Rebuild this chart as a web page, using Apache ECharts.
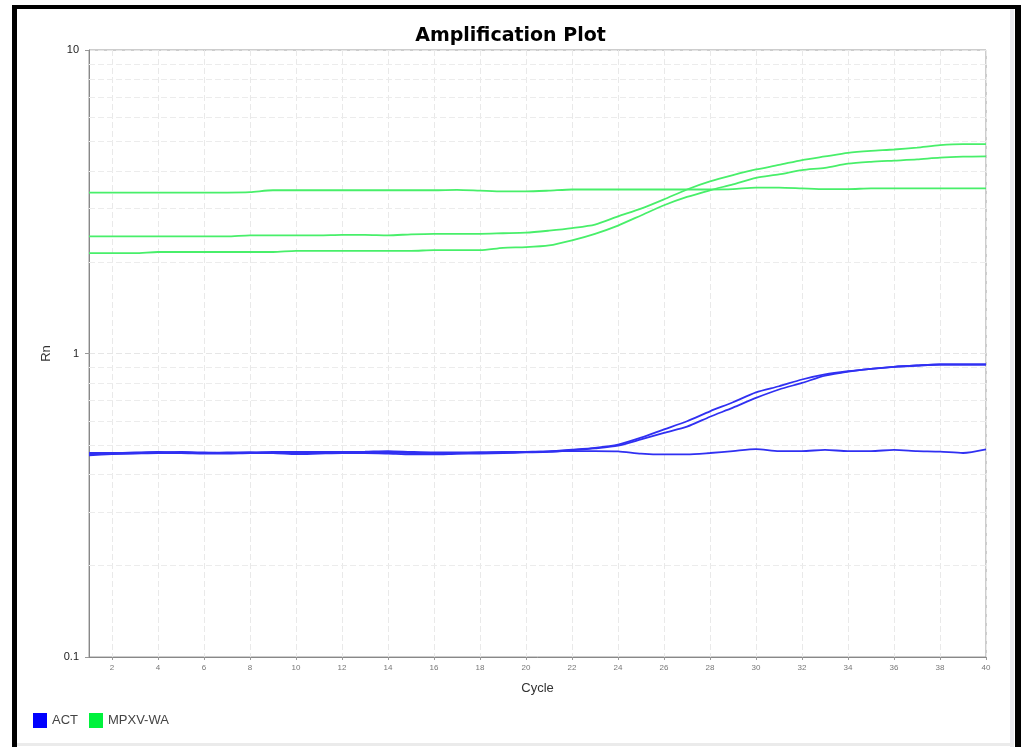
<!DOCTYPE html>
<html>
<head>
<meta charset="utf-8">
<script src="https://cdn.jsdelivr.net/npm/echarts@6/dist/echarts.min.js"></script>
<style>
html,body{margin:0;padding:0;background:#fff;}
#chart{width:1021px;height:747px;}
</style>
</head>
<body>
<div id="chart"></div>
<script>
// ---- data ----
const cycles = Array.from({length: 40}, (_, i) => String(i + 1));

const act1 = [0.465,0.468,0.470,0.472,0.474,0.472,0.470,0.472,0.474,0.474,
              0.474,0.474,0.475,0.477,0.474,0.472,0.472,0.472,0.472,0.474,
              0.476,0.482,0.489,0.501,0.528,0.562,0.598,0.645,0.691,0.745,
              0.780,0.821,0.853,0.874,0.890,0.904,0.913,0.920,0.920,0.920];
const act2 = [0.462,0.466,0.468,0.470,0.470,0.468,0.468,0.470,0.470,0.466,
              0.468,0.470,0.470,0.468,0.465,0.465,0.467,0.468,0.470,0.472,
              0.474,0.480,0.487,0.497,0.521,0.548,0.574,0.619,0.663,0.714,
              0.761,0.800,0.845,0.872,0.890,0.904,0.913,0.920,0.920,0.920];
const act3 = [0.470,0.470,0.472,0.474,0.472,0.470,0.472,0.472,0.470,0.470,
              0.472,0.474,0.474,0.472,0.470,0.470,0.470,0.472,0.474,0.474,
              0.476,0.477,0.477,0.476,0.468,0.465,0.465,0.470,0.477,0.484,
              0.477,0.477,0.481,0.477,0.477,0.481,0.477,0.475,0.470,0.483];

const mpxv1 = [3.39,3.39,3.39,3.39,3.39,3.39,3.39,3.40,3.45,3.45,
               3.45,3.45,3.45,3.45,3.45,3.45,3.46,3.44,3.42,3.42,
               3.44,3.47,3.47,3.47,3.47,3.47,3.47,3.47,3.48,3.52,
               3.52,3.50,3.48,3.48,3.50,3.50,3.50,3.50,3.50,3.50];
const mpxv2 = [2.43,2.43,2.43,2.43,2.43,2.43,2.43,2.45,2.45,2.45,
               2.45,2.46,2.46,2.45,2.47,2.48,2.48,2.48,2.49,2.50,
               2.54,2.59,2.66,2.83,3.00,3.22,3.47,3.69,3.87,4.04,
               4.18,4.34,4.46,4.58,4.65,4.70,4.77,4.86,4.90,4.90];
const mpxv3 = [2.14,2.14,2.14,2.16,2.16,2.16,2.16,2.16,2.16,2.18,
               2.18,2.18,2.18,2.18,2.18,2.19,2.19,2.19,2.23,2.24,
               2.27,2.36,2.48,2.64,2.85,3.08,3.28,3.45,3.61,3.79,
               3.89,4.02,4.09,4.22,4.28,4.32,4.36,4.42,4.45,4.46];

const yTickLabels = ['0.1', '1', '10'];
const minorGridValues = [0.2,0.3,0.4,0.5,0.6,0.7,0.8,0.9,2,3,4,5,6,7,8,9];

// ---- chart ----
const chart = echarts.init(document.getElementById('chart'));
const blue = '#3030f2';
const green = '#48ef6a';
const evenIdx = (i) => (i % 2 === 1);

function lineSeries(name, data, color, extra) {
  return Object.assign({
    name: name,
    type: 'line',
    data: data,
    showSymbol: false,
    symbol: 'none',
    smooth: 0.25,
    lineStyle: {color: color, width: 1.8},
    itemStyle: {color: color},
    animation: false
  }, extra || {});
}

const option = {
  backgroundColor: '#ffffff',
  animation: false,
  title: {
    text: 'Amplification Plot',
    left: 'center',
    top: 22,
    textStyle: {fontFamily: 'DejaVu Sans', fontSize: 19, fontWeight: 'bold', color: '#000'}
  },
  legend: {
    left: 33,
    top: 713,
    padding: 0,
    icon: 'rect',
    itemWidth: 14,
    itemHeight: 15,
    itemGap: 11,
    textStyle: {fontFamily: 'Liberation Sans', fontSize: 13, color: '#444'},
    data: [
      {name: 'ACT', itemStyle: {color: '#0000ff'}},
      {name: 'MPXV-WA', itemStyle: {color: '#00f23c'}}
    ]
  },
  grid: {
    left: 89, right: 35, top: 50, bottom: 90,
    show: true, borderColor: '#9a9a9a', borderWidth: 1, backgroundColor: 'transparent'
  },
  xAxis: {
    type: 'category',
    data: cycles,
    boundaryGap: false,
    name: 'Cycle',
    nameLocation: 'middle',
    nameGap: 25,
    nameTextStyle: {fontFamily: 'Liberation Sans', fontSize: 13, color: '#333', letterSpacing: 1},
    axisLine: {lineStyle: {color: '#888'}},
    axisTick: {show: true, interval: evenIdx, length: 3, lineStyle: {color: '#999'}},
    axisLabel: {interval: evenIdx, fontFamily: 'Liberation Sans', fontSize: 8, color: '#777', margin: 7},
    splitLine: {show: true, interval: evenIdx, lineStyle: {color: '#e9e9e9', type: [6, 3], width: 1}}
  },
  yAxis: {
    type: 'log',
    logBase: 10,
    min: 0.1,
    max: 10,
    name: 'Rn',
    nameLocation: 'middle',
    nameGap: 32,
    nameTextStyle: {fontFamily: 'Liberation Sans', fontSize: 13, color: '#333'},
    axisLine: {show: true, lineStyle: {color: '#888'}},
    axisTick: {show: true, length: 4, lineStyle: {color: '#999'}},
    axisLabel: {
      fontFamily: 'Liberation Sans', fontSize: 11, color: '#222', margin: 10,
      formatter: (v) => {
        const idx = Math.round(Math.log10(v)) + 1;
        return yTickLabels[idx] !== undefined ? yTickLabels[idx] : '';
      }
    },
    splitLine: {show: true, lineStyle: {color: '#e6e6e6', type: [6, 3]}}
  },
  series: [
    lineSeries('MPXV-WA', mpxv1, green, {
      z: 2,
      markLine: {
        silent: true,
        z: 1,
        symbol: 'none',
        animation: false,
        label: {show: false},
        emphasis: {disabled: true},
        lineStyle: {color: '#ececec', type: [6, 3], width: 1},
        data: minorGridValues.map(v => ({yAxis: v}))
      }
    }),
    lineSeries('MPXV-WA', mpxv2, green, {z: 3}),
    lineSeries('MPXV-WA', mpxv3, green, {z: 3}),
    lineSeries('ACT', act3, blue, {z: 3}),
    lineSeries('ACT', act2, blue, {z: 3}),
    lineSeries('ACT', act1, blue, {z: 3})
  ],
  graphic: [
    {type: 'rect', silent: true, shape: {x: 12, y: 5, width: 1009, height: 4}, style: {fill: '#000'}},
    {type: 'rect', silent: true, shape: {x: 12, y: 5, width: 5, height: 742}, style: {fill: '#000'}},
    {type: 'rect', silent: true, shape: {x: 1015, y: 5, width: 6, height: 742}, style: {fill: '#000'}},
    {type: 'rect', silent: true, shape: {x: 1010, y: 9, width: 4, height: 738}, style: {fill: '#ebebf0'}},
    {type: 'rect', silent: true, shape: {x: 17, y: 743, width: 997, height: 3}, style: {fill: '#ebebeb'}}
  ]
};
chart.setOption(option);
</script>
</body>
</html>
